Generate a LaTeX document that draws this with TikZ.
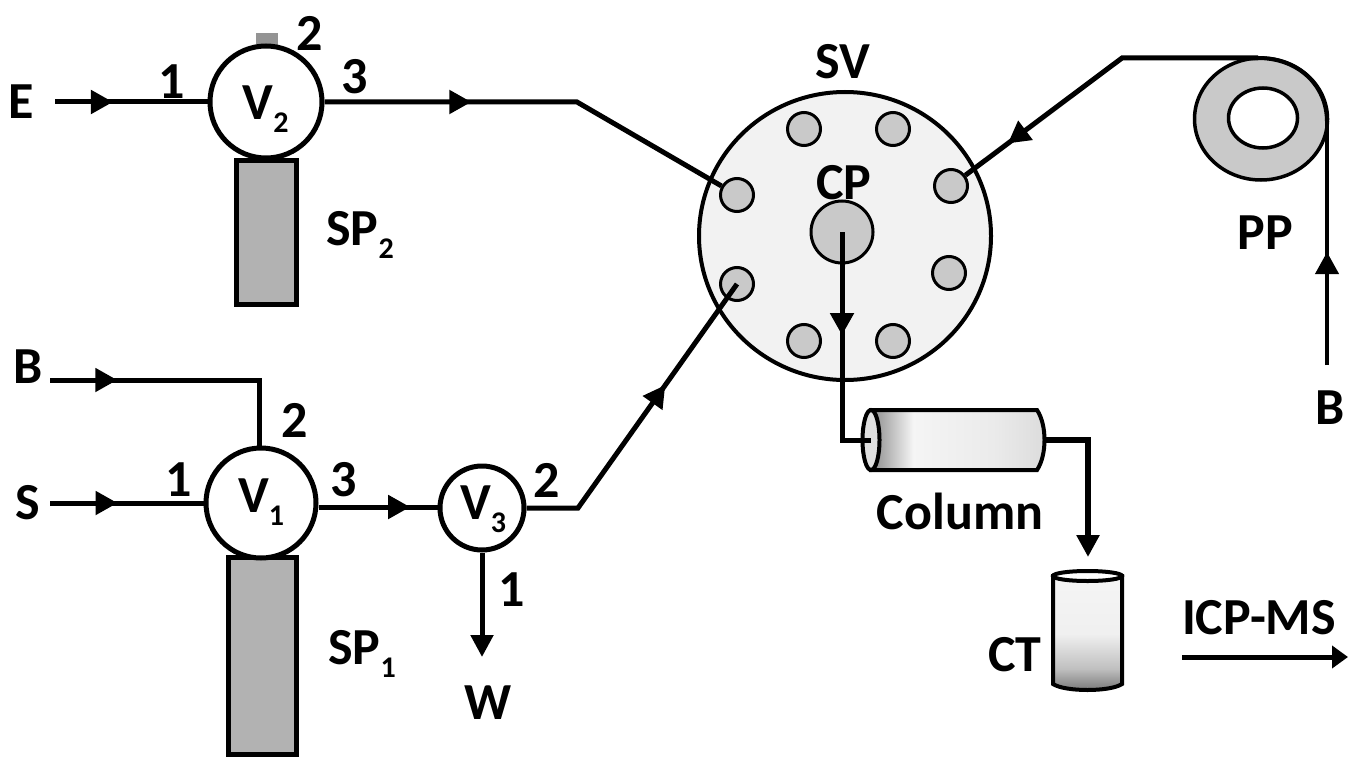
\documentclass[tikz,border=0pt]{standalone}
\usepackage{fontspec}
\setmainfont{Carlito}
\usetikzlibrary{arrows.meta,decorations.markings,shapes.geometric}
\pgfdeclarehorizontalshading{colshade}{100bp}{color(0bp)=(black!45);color(25bp)=(black!45);color(37bp)=(black!4);color(60bp)=(black!8);color(75bp)=(black!14);color(100bp)=(black!14)}
\pgfdeclareverticalshading{ctshade}{100bp}{color(0bp)=(black!55);color(25bp)=(black!55);color(35bp)=(black!25);color(50bp)=(black!6);color(75bp)=(black!4);color(100bp)=(black!4)}
\newcommand{\lowidx}[1]{\raisebox{-13pt}{\fontsize{30}{30}\selectfont #1}}
\tikzset{
  txt/.style={font=\fontsize{52}{52}\selectfont\bfseries,inner sep=0pt,text=black},
  sublabel/.style={txt,anchor=base},
  pipe/.style={line width=5pt,line join=miter},
  heavypipe/.style={line width=6.5pt,line join=miter},
  thinpipe/.style={line width=4pt},
  tip/.style={-{Triangle[length=22pt,width=22pt]}},
  midtip/.style={postaction={decorate},decoration={markings,mark=at position #1 with {\arrow{Triangle[length=22pt,width=23pt]}}}},
  valve/.style={circle,draw=black,line width=5pt,fill=white,inner sep=0pt},
  syringe/.style={rectangle,draw=black,line width=5pt,fill=black!30,inner sep=0pt},
  port/.style={circle,draw=black,line width=3pt,fill=black!21,minimum size=33pt,inner sep=0pt},
}
\begin{document}
\begin{tikzpicture}[x=1pt,y=-1pt]
\useasboundingbox (0,0) rectangle (1348,757);
% free ends
\coordinate (eS) at (55,102);
\coordinate (bS) at (50,380);
\coordinate (bK) at (259,380);
\coordinate (sS) at (50,503);
\coordinate (k1) at (577,102);
\coordinate (k2) at (578,508);
\coordinate (wE) at (482,657);
\coordinate (k3) at (842,440);
\coordinate (k4) at (1088,440);
\coordinate (ctE) at (1088,557);
\coordinate (k5) at (1122,58);
\coordinate (k6) at (1258,58);
\coordinate (k7) at (1327,122);
\coordinate (bE) at (1327,365);
\coordinate (iS) at (1182,657);
\coordinate (iE) at (1348,657);
% syringes
\node[rectangle,fill=black!42,minimum width=22pt,minimum height=14pt,inner sep=0pt] (cap) at (267,40) {};
\node[syringe,minimum width=60pt,minimum height=144pt] (sp2) at (266,232) {};
\node[syringe,minimum width=68pt,minimum height=197pt] (sp1) at (262,656) {};
% switching valve
\node[ellipse,draw=black,line width=4pt,fill=black!5,minimum width=292pt,minimum height=288pt,inner sep=0pt] (sv) at (845,236) {};
\node[port] (p1) at (737,195) {};
\node[port] (p2) at (804,129) {};
\node[port] (p3) at (893,129) {};
\node[port] (p4) at (951,186) {};
\node[port] (p5) at (949,273) {};
\node[port] (p6) at (893,341) {};
\node[port] (p7) at (804,341) {};
\node[port] (p8) at (737,284) {};
\node[circle,draw=black,line width=3pt,fill=black!21,minimum size=62pt,inner sep=0pt] (cp) at (842,232) {};
% pump
\node[ellipse,draw=black,line width=3.5pt,fill=black!21,minimum width=133pt,minimum height=122pt,inner sep=0pt] (pp) at (1261,119) {};
\node[ellipse,draw=black,line width=3.5pt,fill=white,minimum width=69pt,minimum height=60pt,inner sep=0pt] (ppi) at (1263,118) {};
% column
\path[draw=black,line width=4pt,shading=colshade] (871,410) -- (1037,410) .. controls (1047,425) and (1047,455) .. (1037,470) -- (871,470) -- cycle;
\node[ellipse,draw=black,line width=4pt,fill=black!12,minimum width=17pt,minimum height=60pt,inner sep=0pt] (col) at (871,440) {};
\coordinate (colR) at (1044,440);
% collection tube
\path[draw=black,line width=4pt,shading=ctshade] (1053,576) -- (1053,684) .. controls (1065,692) and (1110,692) .. (1122,684) -- (1122,576) -- cycle;
\node[ellipse,draw=black,line width=4pt,fill=white,minimum width=69pt,minimum height=10pt,inner sep=0pt] (ct) at (1087.5,576) {};
% valves
\node[valve,minimum size=112pt] (v2) at (266,102) {};
\node[valve,minimum size=110pt] (v1) at (261,503) {};
\node[valve,minimum size=84pt] (v3) at (482,508) {};
% connectors
\draw[pipe,midtip=0.38] (eS) -- (v2.west);
\draw[pipe,midtip=0.35] (v2.east) -- (k1) -- (p1);
\draw[pipe,midtip=0.245] (bS) -- (bK) -- (bK |- v1.north);
\draw[pipe,midtip=0.44] (sS) -- (v1.west);
\draw[pipe,midtip=0.77] (v1.east |- 0,507) -- (v3.west |- 0,507);
\draw[pipe,midtip=0.62] (v3.east) -- (k2) -- (p8.center);
\draw[pipe,tip] (v3.south) -- (wE);
\draw[pipe,midtip=0.435] (cp.center) -- (k3) -- (col.center);
\draw[heavypipe,tip] (colR) -- (k4) -- (ctE);
\draw[pipe,midtip=0.84] (k6) -- (k5) -- (p4);
\draw[thinpipe] (k6) .. controls (1298,58) and (1327,85) .. (k7);
\draw[thinpipe,midtip=0.465] (bE) -- (k7);
\draw[pipe,-{Triangle[length=16pt,width=22pt]}] (iS) -- (iE);
% labels
\node[txt] (lE) at (21,102) {E};
\node[txt] (l1a) at (172,82) {1};
\node[txt] (l2a) at (310,33) {2};
\node[txt] (l3a) at (355,77) {3};
\node[sublabel] (lV2) at (265.5,120) {V\lowidx{2}};
\node[sublabel] (lSP2) at (360,245) {SP\lowidx{2}};
\node[txt] (lB1) at (28,367) {B};
\node[txt] (lS) at (28,503) {S};
\node[txt] (l1b) at (179,480) {1};
\node[txt] (l2b) at (295,420) {2};
\node[txt] (l3b) at (344,480) {3};
\node[sublabel] (lV1) at (261,512) {V\lowidx{1}};
\node[sublabel] (lV3) at (483,519) {V\lowidx{3}};
\node[txt] (l2c) at (547,480) {2};
\node[txt] (l1c) at (512,590) {1};
\node[txt] (lW) at (488,703) {W};
\node[sublabel] (lSP1) at (362,664) {SP\lowidx{1}};
\node[txt] (lSV) at (843,62) {SV};
\node[txt] (lCP) at (844,183) {CP};
\node[txt] (lPP) at (1265,233) {PP};
\node[txt] (lB2) at (1330,408) {B};
\node[txt] (lCol) at (960,511) {Column};
\node[txt] (lCT) at (1015,655) {CT};
\node[txt] (lICP) at (1259,618) {ICP-MS};
\end{tikzpicture}
\end{document}
